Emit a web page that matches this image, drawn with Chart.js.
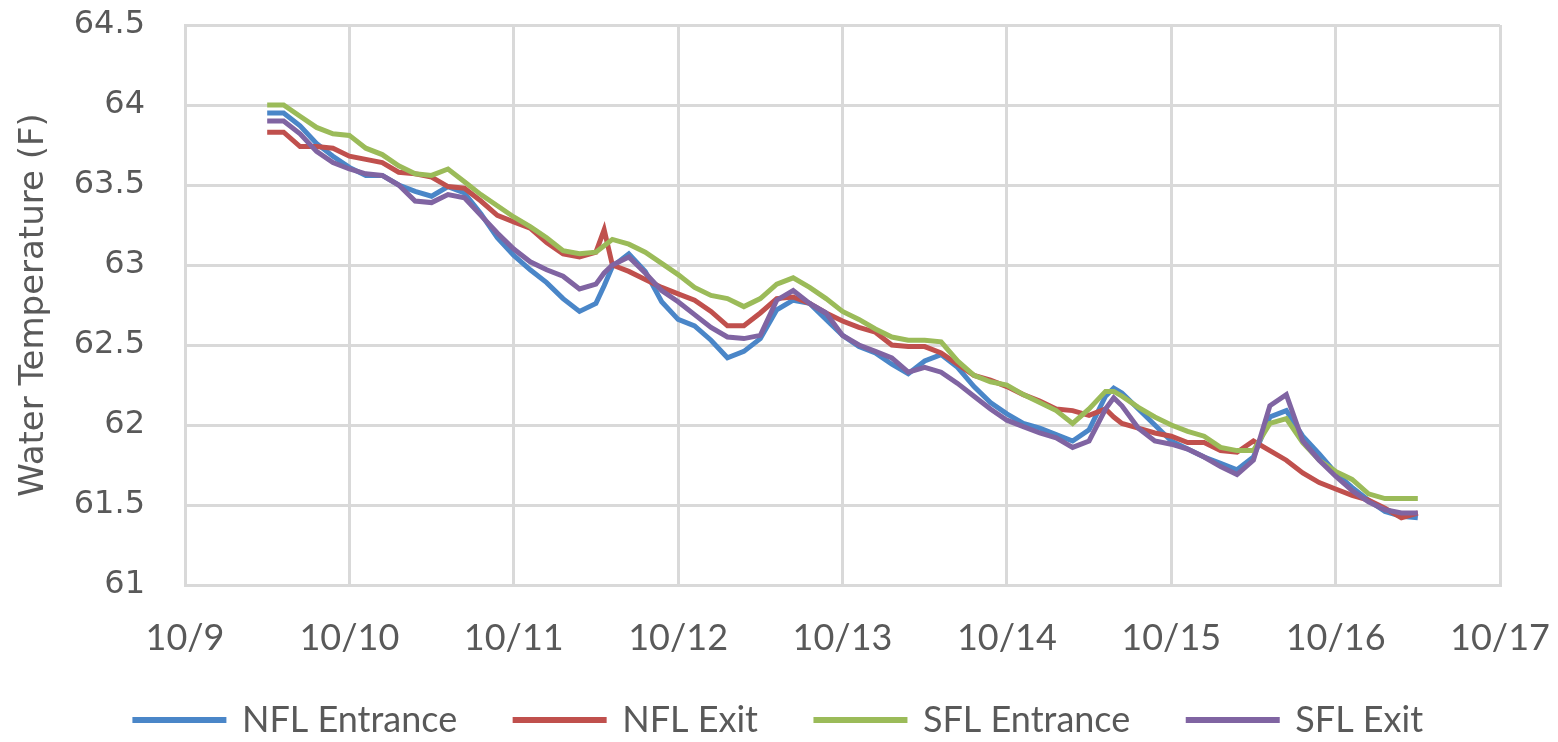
<!DOCTYPE html>
<html>
<head>
<meta charset="utf-8">
<title>Water Temperature</title>
<script src="https://cdn.jsdelivr.net/npm/chart.js@4/dist/chart.umd.min.js"></script>
<style>
  html, body { margin: 0; padding: 0; background: #ffffff; }
  #tempChart { display: block; }
</style>
</head>
<body>
<canvas id="tempChart" width="1558" height="742"></canvas>
<script>
// time in days of October (10/9 = 9)
const times = [
  9.5, 9.6, 9.7, 9.8, 9.9, 10.0, 10.1, 10.2, 10.3, 10.4,
  10.5, 10.6, 10.7, 10.8, 10.9, 11.0, 11.1, 11.2, 11.3, 11.4,
  11.5, 11.55, 11.6, 11.7, 11.8, 11.9, 12.0, 12.1, 12.2, 12.3,
  12.4, 12.5, 12.6, 12.7, 12.8, 12.9, 13.0, 13.1, 13.2, 13.3,
  13.4, 13.5, 13.6, 13.7, 13.8, 13.9, 14.0, 14.1, 14.2, 14.3,
  14.4, 14.5, 14.6, 14.65, 14.7, 14.8, 14.9, 15.0, 15.1, 15.2,
  15.3, 15.4, 15.5, 15.6, 15.7, 15.8, 15.9, 16.0, 16.1, 16.2,
  16.3, 16.4, 16.5
];

const nflEntrance = [
  63.95, 63.95, 63.87, 63.76, 63.68, 63.61, 63.56, 63.56, 63.50, 63.46,
  63.43, 63.49, 63.45, 63.32, 63.17, 63.06, 62.97, 62.89, 62.79, 62.71,
  62.76, 62.87, 62.99, 63.07, 62.96, 62.77, 62.66, 62.62, 62.53, 62.42,
  62.46, 62.54, 62.72, 62.78, 62.76, 62.66, 62.56, 62.49, 62.45, 62.38,
  62.32, 62.40, 62.44, 62.36, 62.24, 62.14, 62.07, 62.01, 61.98, 61.94,
  61.90, 61.97, 62.18, 62.23, 62.20, 62.10, 62.00, 61.90, 61.85, 61.80,
  61.76, 61.72, 61.80, 62.05, 62.09, 61.93, 61.82, 61.70, 61.61, 61.53,
  61.46, 61.43, 61.42
];

const nflExit = [
  63.83, 63.83, 63.74, 63.74, 63.73, 63.68, 63.66, 63.64, 63.58, 63.57,
  63.55, 63.49, 63.48, 63.40, 63.31, 63.27, 63.23, 63.14, 63.07, 63.05,
  63.08, 63.22, 63.00, 62.96, 62.91, 62.86, 62.82, 62.78, 62.71, 62.62,
  62.62, 62.70, 62.79, 62.80, 62.76, 62.70, 62.65, 62.61, 62.58, 62.50,
  62.49, 62.49, 62.45, 62.38, 62.31, 62.28, 62.24, 62.19, 62.15, 62.10,
  62.09, 62.06, 62.10, 62.05, 62.01, 61.98, 61.95, 61.93, 61.89, 61.89,
  61.84, 61.83, 61.90, 61.84, 61.78, 61.70, 61.64, 61.60, 61.56, 61.53,
  61.48, 61.42, 61.45
];

const sflEntrance = [
  64.00, 64.00, 63.93, 63.86, 63.82, 63.81, 63.73, 63.69, 63.62, 63.57,
  63.56, 63.60, 63.52, 63.44, 63.37, 63.30, 63.24, 63.17, 63.09, 63.07,
  63.08, 63.12, 63.16, 63.13, 63.08, 63.01, 62.94, 62.86, 62.81, 62.79,
  62.74, 62.79, 62.88, 62.92, 62.86, 62.79, 62.71, 62.66, 62.60, 62.55,
  62.53, 62.53, 62.52, 62.40, 62.31, 62.27, 62.25, 62.19, 62.14, 62.09,
  62.01, 62.10, 62.21, 62.21, 62.18, 62.11, 62.05, 62.00, 61.96, 61.93,
  61.86, 61.84, 61.84, 62.01, 62.04, 61.89, 61.78, 61.71, 61.66, 61.57,
  61.54, 61.54, 61.54
];

const sflExit = [
  63.90, 63.90, 63.82, 63.71, 63.64, 63.60, 63.57, 63.56, 63.50, 63.40,
  63.39, 63.44, 63.42, 63.31, 63.20, 63.10, 63.02, 62.97, 62.93, 62.85,
  62.88, 62.95, 63.00, 63.05, 62.95, 62.84, 62.77, 62.69, 62.61, 62.55,
  62.54, 62.56, 62.78, 62.84, 62.76, 62.70, 62.56, 62.50, 62.46, 62.42,
  62.33, 62.36, 62.33, 62.26, 62.18, 62.10, 62.03, 61.99, 61.95, 61.92,
  61.86, 61.90, 62.10, 62.17, 62.12, 61.98, 61.90, 61.88, 61.85, 61.80,
  61.74, 61.69, 61.78, 62.12, 62.19, 61.90, 61.78, 61.68, 61.59, 61.52,
  61.47, 61.45, 61.45
];

const seriesNames = ['NFL Entrance', 'NFL Exit', 'SFL Entrance', 'SFL Exit'];
const seriesColors = ['#4a86c8', '#c0504d', '#9bbb59', '#8064a2'];
const dayLabels = ['10/9', '10/10', '10/11', '10/12', '10/13', '10/14', '10/15', '10/16', '10/17'];
const yTicks = [61, 61.5, 62, 62.5, 63, 63.5, 64, 64.5];

const textColor = '#595959';
const gridColor = '#d9d9d9';

function toPoints(values) {
    return values.map((v, i) => ({ x: times[i], y: v }));
}

const allValues = [nflEntrance, nflExit, sflEntrance, sflExit];

const datasets = allValues.map((values, i) => ({
    label: seriesNames[i],
    data: toPoints(values),
    borderColor: seriesColors[i],
    backgroundColor: seriesColors[i],
    borderWidth: 5,
    pointRadius: 0,
    tension: 0,
    fill: false,
    order: 4 - i // later series on top, like the spreadsheet
}));

// legend box is kept short for layout, then raised and centred on the canvas
const LEGEND_HEIGHT = 77;
const LEGEND_LIFT = 21;
const LEGEND_SHIFT = 29;

const legendFit = {
    id: 'legendFit',
    beforeInit(chart) {
        const origFit = chart.legend.fit;
        chart.legend.fit = function () {
            origFit.call(this);
            this.height = LEGEND_HEIGHT;
        };
    },
    afterLayout(chart) {
        const legend = chart.legend;
        legend.top -= LEGEND_LIFT;
        legend.height += LEGEND_LIFT;
        legend.left += LEGEND_SHIFT;
        legend.right += LEGEND_SHIFT;
    }
};

const ctx = document.getElementById('tempChart').getContext('2d');

new Chart(ctx, {
    type: 'line',
    data: { datasets: datasets },
    plugins: [legendFit],
    options: {
        responsive: false,
        animation: false,
        layout: { padding: { top: 25, right: 58, left: 0, bottom: 0 } },
        scales: {
            x: {
                type: 'linear',
                min: 9,
                max: 17,
                afterBuildTicks(scale) {
                    scale.ticks = dayLabels.map((_, i) => ({ value: 9 + i }));
                },
                afterFit(scale) {
                    scale.height = 80;
                },
                // invisible tick marks push the labels down without padding the plot
                grid: { color: gridColor, lineWidth: 3, drawTicks: true, tickLength: 28, tickColor: 'rgba(0,0,0,0)' },
                border: { color: gridColor, width: 3 },
                ticks: {
                    padding: 4,
                    color: textColor,
                    font: { family: 'Lato', size: 36 },
                    maxRotation: 0,
                    autoSkip: false,
                    callback: (value, index) => dayLabels[index]
                }
            },
            y: {
                min: 61,
                max: 64.5,
                afterBuildTicks(scale) {
                    scale.ticks = yTicks.map(v => ({ value: v }));
                },
                afterFit(scale) {
                    scale.width = 185;
                },
                grid: { color: gridColor, lineWidth: 3, drawTicks: true, tickLength: 36, tickColor: 'rgba(0,0,0,0)' },
                border: { color: gridColor, width: 3 },
                title: {
                    display: true,
                    text: 'Water Temperature (F)',
                    color: textColor,
                    font: { family: 'DejaVu Sans', size: 34 },
                    padding: { top: 14, bottom: 0 }
                },
                ticks: {
                    padding: 4,
                    color: textColor,
                    font: { family: 'DejaVu Sans', size: 32 },
                    callback: v => String(v)
                }
            }
        },
        plugins: {
            legend: {
                position: 'bottom',
                labels: {
                    color: textColor,
                    font: { family: 'Lato', size: 36 },
                    boxWidth: 89,
                    boxHeight: 1,
                    padding: 58,
                    sort: (a, b) => a.datasetIndex - b.datasetIndex
                }
            },
            tooltip: { enabled: false }
        }
    }
});
</script>
</body>
</html>
